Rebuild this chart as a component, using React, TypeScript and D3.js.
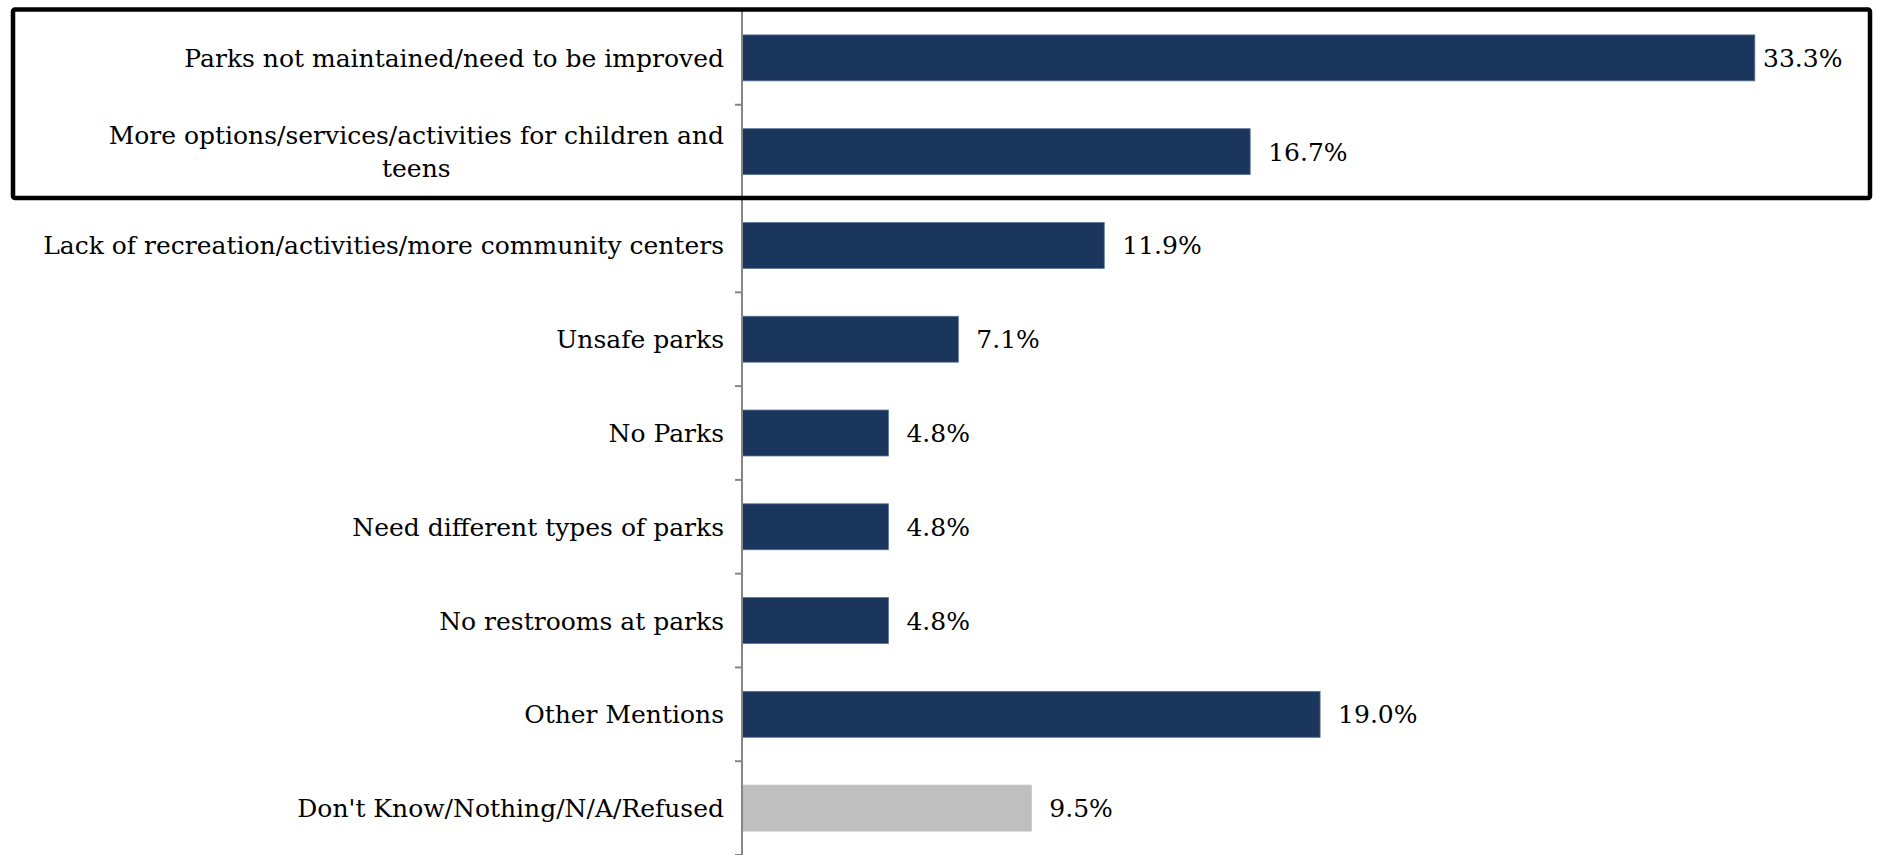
import React, { useMemo } from "react";
import * as d3 from "d3";

const categories: string[] = [
  "Parks not maintained/need to be improved",
  "More options/services/activities for children and teens",
  "Lack of recreation/activities/more community centers",
  "Unsafe parks",
  "No Parks",
  "Need different types of parks",
  "No restrooms at parks",
  "Other Mentions",
  "Don't Know/Nothing/N/A/Refused",
];

const values: number[] = [33.3, 16.7, 11.9, 7.1, 4.8, 4.8, 4.8, 19.0, 9.5];

const neutralCategories: string[] = ["Don't Know/Nothing/N/A/Refused"];

const highlightedCategories: string[] = [
  "Parks not maintained/need to be improved",
  "More options/services/activities for children and teens",
];

const W = 1878;
const H = 855;
const FONT = "'DejaVu Serif', serif";
const FS = 25;
const NAVY = "#1b365d";
const GRAY = "#bfbfbf";

function measure(text: string): number {
  const c = document.createElement("canvas");
  const ctx = c.getContext("2d")!;
  ctx.font = `${FS}px 'DejaVu Serif'`;
  return ctx.measureText(text).width;
}

function wrap(text: string, maxW: number): string[] {
  const words = text.split(" ");
  const lines: string[] = [];
  let cur = "";
  for (const w of words) {
    const t = cur ? cur + " " + w : w;
    if (measure(t) > maxW && cur) {
      lines.push(cur);
      cur = w;
    } else cur = t;
  }
  if (cur) lines.push(cur);
  return lines;
}

export default function App() {
  const axisX = 742;
  const labelRight = 724;
  const x = d3.scaleLinear().domain([0, 35]).range([axisX + 0.5, axisX + 0.5 + 35 * 30.4]);
  const y = d3
    .scaleBand<string>()
    .domain(categories)
    .range([11, H])
    .paddingInner(0.51)
    .paddingOuter(0.255);
  const step = y.step();
  const [y0] = y.range();
  const fmt = d3.format(".1f");
  const labelMaxX = 1763;

  const wrapped = useMemo(() => categories.map((c) => wrap(c, 685)), []);

  const boxTop = y0 - 1.5;
  const boxBottom = y0 + highlightedCategories.length * step - 0.5;

  return (
    <svg
      width={W}
      height={H}
      style={{ position: "absolute", left: 0, top: 0, display: "block", background: "#fff" }}
      fontFamily={FONT}
    >
      {/* bars */}
      {categories.map((c, i) => (
        <rect
          key={c}
          x={x(0)}
          y={y(c)}
          width={x(values[i]) - x(0)}
          height={y.bandwidth()}
          fill={neutralCategories.includes(c) ? GRAY : NAVY}
          stroke={neutralCategories.includes(c) ? GRAY : "#5a7396"}
          strokeWidth={0.8}
        />
      ))}
      {/* axis */}
      <line x1={axisX} x2={axisX} y1={y0} y2={H} stroke="#868686" strokeWidth={2} />
      {d3.range(1, categories.length + 1).map((i) => (
        <line
          key={i}
          x1={axisX - 7}
          x2={axisX}
          y1={y0 + i * step}
          y2={y0 + i * step}
          stroke="#868686"
          strokeWidth={2}
        />
      ))}
      {/* category labels */}
      {categories.map((c, i) => {
        const lines = wrapped[i];
        const cy = (y(c) ?? 0) + y.bandwidth() / 2;
        const lh = 33;
        if (lines.length === 1) {
          return (
            <text key={c} x={labelRight} y={cy} dy="0.36em" textAnchor="end" fontSize={FS} fill="#000">
              {c}
            </text>
          );
        }
        const maxW = Math.max(...lines.map(measure));
        const cx = labelRight - maxW / 2;
        return (
          <text key={c} x={cx} textAnchor="middle" fontSize={FS} fill="#000">
            {lines.map((l, j) => (
              <tspan key={j} x={cx} y={cy + (j - (lines.length - 1) / 2) * lh} dy="0.36em">
                {l}
              </tspan>
            ))}
          </text>
        );
      })}
      {/* value labels */}
      {categories.map((c, i) => (
        <text
          key={c}
          x={Math.min(x(values[i]) + 18, labelMaxX)}
          y={(y(c) ?? 0) + y.bandwidth() / 2}
          dy="0.36em"
          fontSize={FS}
          fill="#000"
        >
          {fmt(values[i]) + "%"}
        </text>
      ))}
      {/* highlight box */}
      <rect
        x={13}
        y={boxTop}
        width={1857}
        height={boxBottom - boxTop}
        fill="none"
        stroke="#000"
        strokeWidth={4.5}
        rx={2}
      />
    </svg>
  );
}
